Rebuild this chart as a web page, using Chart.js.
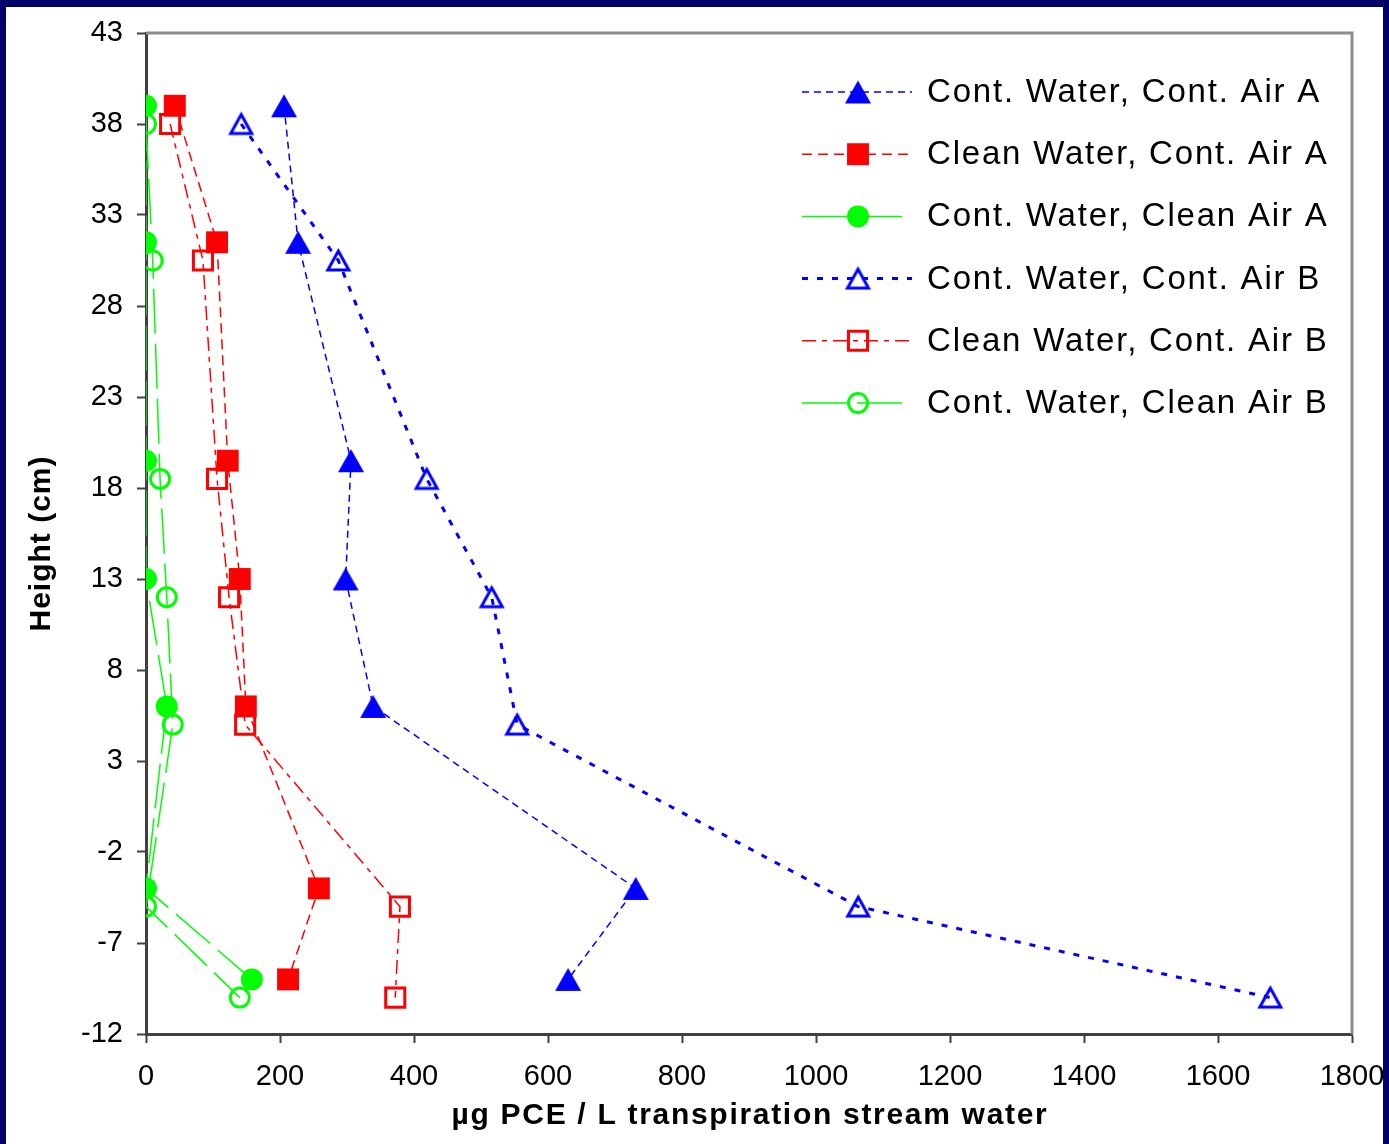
<!DOCTYPE html>
<html>
<head>
<meta charset="utf-8">
<script src="https://cdn.jsdelivr.net/npm/chart.js@4.4.0/dist/chart.umd.min.js"></script>
<style>
  html, body { margin: 0; padding: 0; }
  body { width: 1389px; height: 1144px; background: #00006b; position: relative; overflow: hidden; }
  #wrap { position: absolute; left: 6px; top: 7px; width: 1377px; height: 1137px; background: #ffffff; }
</style>
</head>
<body>
<div id="wrap"><canvas id="pceChart"></canvas></div>
<script>
// heights (cm) for run A and run B
const heightsA = [39, 31.5, 19.5, 13, 6, -4, -9];
const heightsB = [38, 30.5, 18.5, 12, 5, -5, -10];

// ug PCE / L transpiration stream water
const contWaterContAirA = [206, 227, 306, 298, 339, 731, 630];
const cleanWaterContAirA = [43, 106, 122, 140, 149, 258, 212];
const contWaterCleanAirA = [0, 0, 0, 0, 31, 0, 158];
const contWaterContAirB = [142, 287, 419, 516, 554, 1063, 1678];
const cleanWaterContAirB = [36, 85, 106, 124, 148, 379, 372];
const contWaterCleanAirB = [0, 10, 21, 31, 40, 0, 140];

const seriesLabels = [
    "Cont. Water, Cont. Air A",
    "Clean Water, Cont. Air A",
    "Cont. Water, Clean Air A",
    "Cont. Water, Cont. Air B",
    "Clean Water, Cont. Air B",
    "Cont. Water, Clean Air B"
];

const xTicks = [0, 200, 400, 600, 800, 1000, 1200, 1400, 1600, 1800];
const yTicks = [-12, -7, -2, 3, 8, 13, 18, 23, 28, 33, 38, 43];

const xTitle = "µg PCE / L transpiration stream water";
const yTitle = "Height (cm)";

const FONT = "'Liberation Sans', Arial, sans-serif";

function toPoints(xs, ys) {
    return xs.map((v, i) => ({ x: v, y: ys[i] }));
}

// triangle marker centred on its box (chart.js centres triangles on the circumcentre)
function triangleMarker(w, h, fill, stroke, lw) {
    const c = document.createElement("canvas");
    const pad = Math.ceil(lw) + 1;
    c.width = w + 2 * pad;
    c.height = h + 2 * pad;
    const g = c.getContext("2d");
    g.beginPath();
    g.moveTo(pad + w / 2, pad);
    g.lineTo(pad + w, pad + h);
    g.lineTo(pad, pad + h);
    g.closePath();
    if (fill) { g.fillStyle = fill; g.fill(); }
    if (stroke) { g.strokeStyle = stroke; g.lineWidth = lw; g.stroke(); }
    return c;
}

const datasets = [
    {
        label: seriesLabels[0],
        data: toPoints(contWaterContAirA, heightsA),
        borderColor: "#0000ff", backgroundColor: "#0000ff",
        borderWidth: 1.5, borderDash: [7, 5],
        pointStyle: triangleMarker(26, 23, "#0000ff", null, 0), pointRadius: 13, pointBorderWidth: 0
    },
    {
        label: seriesLabels[1],
        data: toPoints(cleanWaterContAirA, heightsA),
        borderColor: "#ff0000", backgroundColor: "#ff0000",
        borderWidth: 1.5, borderDash: [10, 6],
        pointStyle: "rect", pointRadius: 15.5, pointBorderWidth: 0
    },
    {
        label: seriesLabels[2],
        data: toPoints(contWaterCleanAirA, heightsA),
        borderColor: "#00ff00", backgroundColor: "#00ff00",
        borderWidth: 1.5, borderDash: [45, 10],
        pointStyle: "circle", pointRadius: 11, pointBorderWidth: 0
    },
    {
        label: seriesLabels[3],
        data: toPoints(contWaterContAirB, heightsB),
        borderColor: "#0000ff", backgroundColor: "rgba(0,0,0,0)",
        borderWidth: 3, borderDash: [6, 9],
        pointStyle: triangleMarker(21, 19, null, "#0000ff", 3), pointRadius: 12, pointBorderWidth: 3,
        pointBorderColor: "#0000ff", pointBackgroundColor: "rgba(0,0,0,0)"
    },
    {
        label: seriesLabels[4],
        data: toPoints(cleanWaterContAirB, heightsB),
        borderColor: "#ff0000", backgroundColor: "rgba(0,0,0,0)",
        borderWidth: 1.5, borderDash: [14, 6, 5, 6],
        pointStyle: "rect", pointRadius: 13.5, pointBorderWidth: 3,
        pointBorderColor: "#ff0000", pointBackgroundColor: "rgba(0,0,0,0)"
    },
    {
        label: seriesLabels[5],
        data: toPoints(contWaterCleanAirB, heightsB),
        borderColor: "#00ff00", backgroundColor: "rgba(0,0,0,0)",
        borderWidth: 1.5, borderDash: [45, 10],
        pointStyle: "circle", pointRadius: 9.5, pointBorderWidth: 3,
        pointBorderColor: "#00ff00", pointBackgroundColor: "rgba(0,0,0,0)"
    }
].map(ds => Object.assign({ showLine: true, fill: false, tension: 0, pointHoverRadius: ds.pointRadius }, ds));

// gray frame on top and right of the plot area
const frameLines = {
    id: "frameLines",
    beforeDatasetsDraw(chart) {
        const { ctx, chartArea: a } = chart;
        ctx.save();
        ctx.strokeStyle = "#8c8c8c";
        ctx.lineWidth = 3;
        ctx.beginPath();
        ctx.moveTo(a.left, a.top);
        ctx.lineTo(a.right, a.top);
        ctx.lineTo(a.right, a.bottom);
        ctx.stroke();
        ctx.restore();
    }
};

// axis titles drawn by hand so they can get the wide letter spacing
const axisTitles = {
    id: "axisTitles",
    afterDraw(chart) {
        const { ctx, chartArea: a } = chart;
        ctx.save();
        ctx.fillStyle = "#000000";
        ctx.font = "bold 30px " + FONT;
        ctx.letterSpacing = "1.7px";
        ctx.textAlign = "center";
        ctx.textBaseline = "middle";
        ctx.fillText(xTitle, (a.left + a.right) / 2 + 1, 1109);
        ctx.letterSpacing = "1px";
        ctx.translate(36, (a.top + a.bottom) / 2 + 10);
        ctx.rotate(-Math.PI / 2);
        ctx.fillText(yTitle, 0, 0);
        ctx.restore();
    }
};

// legend in the top right corner, line sample with marker in the middle
const sampleLegend = {
    id: "sampleLegend",
    afterDatasetsDraw(chart) {
        const ctx = chart.ctx;
        const x0 = 796, x1 = 906, top = 85, gap = 62.2;
        ctx.save();
        chart.data.datasets.forEach((ds, i) => {
            const y = top + i * gap;
            ctx.strokeStyle = ds.borderColor;
            ctx.lineWidth = ds.borderWidth;
            ctx.setLineDash(ds.borderDash || []);
            ctx.beginPath();
            ctx.moveTo(x0, y);
            ctx.lineTo(x1, y);
            ctx.stroke();
            ctx.setLineDash([]);
            ctx.fillStyle = ds.pointBackgroundColor || ds.backgroundColor;
            ctx.strokeStyle = ds.pointBorderColor || ds.borderColor;
            ctx.lineWidth = ds.pointBorderWidth;
            Chart.helpers.drawPoint(ctx, {
                pointStyle: ds.pointStyle,
                radius: ds.pointRadius,
                borderWidth: ds.pointBorderWidth,
                rotation: 0
            }, 852, y);
            ctx.fillStyle = "#000000";
            ctx.font = "33px " + FONT;
            ctx.letterSpacing = "1.8px";
            ctx.textAlign = "left";
            ctx.textBaseline = "middle";
            ctx.fillText(ds.label, 921, y + 1);
        });
        ctx.restore();
    }
};

const ctx = document.getElementById("pceChart").getContext("2d");

new Chart(ctx, {
    type: "scatter",
    data: { datasets: datasets },
    options: {
        responsive: true,
        maintainAspectRatio: false,
        animation: false,
        layout: { padding: { top: 26, right: 31, left: 0, bottom: 0 } },
        plugins: {
            legend: { display: false },
            tooltip: { enabled: false }
        },
        scales: {
            x: {
                type: "linear",
                min: xTicks[0],
                max: xTicks[xTicks.length - 1],
                afterFit(scale) {
                    scale.height = 110;
                    scale.paddingLeft = 0;
                    scale.paddingRight = 0;
                },
                afterBuildTicks(scale) { scale.ticks = xTicks.map(v => ({ value: v })); },
                border: { display: true, color: "#404040", width: 3 },
                grid: { display: true, drawOnChartArea: false, drawTicks: true, tickLength: 9, tickWidth: 2, tickColor: "#404040" },
                ticks: { color: "#000000", padding: 17, font: { family: FONT, size: 29 }, callback: v => String(v) }
            },
            y: {
                type: "linear",
                min: yTicks[0],
                max: yTicks[yTicks.length - 1],
                afterFit(scale) {
                    scale.width = 140;
                    scale.paddingTop = 0;
                    scale.paddingBottom = 0;
                },
                afterBuildTicks(scale) { scale.ticks = yTicks.map(v => ({ value: v })); },
                border: { display: true, color: "#404040", width: 3 },
                grid: { display: true, drawOnChartArea: false, drawTicks: true, tickLength: 9, tickWidth: 2, tickColor: "#404040" },
                ticks: { color: "#000000", padding: 14, font: { family: FONT, size: 29 }, callback: v => String(v) }
            }
        }
    },
    plugins: [frameLines, sampleLegend, axisTitles]
});
</script>
</body>
</html>
